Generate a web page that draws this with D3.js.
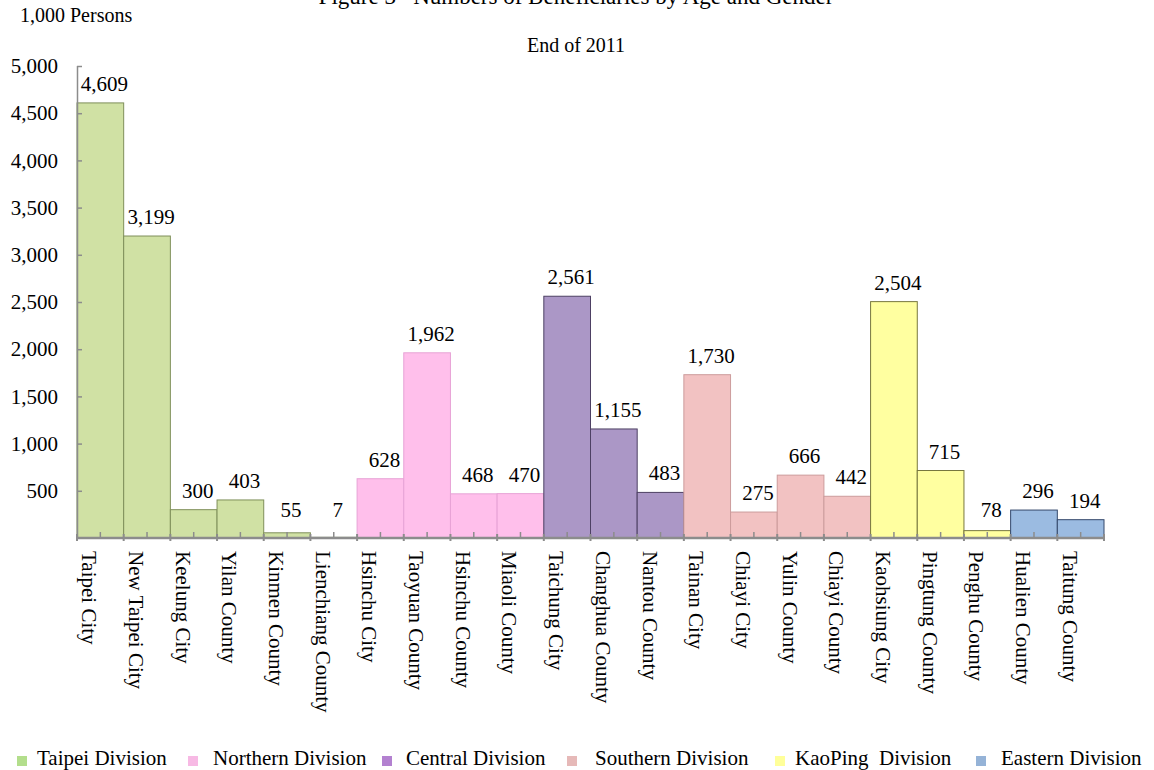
<!DOCTYPE html>
<html>
<head>
<meta charset="utf-8">
<script src="https://cdn.jsdelivr.net/npm/d3@7"></script>
<style>
  body { margin: 0; background: #fff; }
  svg { display: block; }
  text { font-family: "Liberation Serif", "Times New Roman", serif; fill: #000; }
</style>
</head>
<body>
<svg id="chart" width="1154" height="770"></svg>
<script>
// ---- data ----
const categories = ["Taipei City", "New Taipei City", "Keelung City", "Yilan County", "Kinmen County", "Lienchiang County",
  "Hsinchu City", "Taoyuan County", "Hsinchu County", "Miaoli County",
  "Taichung City", "Changhua County", "Nantou County",
  "Tainan City", "Chiayi City", "Yulin County", "Chiayi County",
  "Kaohsiung City", "Pingtung County", "Penghu County",
  "Hualien County", "Taitung County"];
const values = [4609, 3199, 300, 403, 55, 7, 628, 1962, 468, 470, 2561, 1155, 483, 1730, 275, 666, 442, 2504, 715, 78, 296, 194];
const divisionOf = ["Taipei", "Taipei", "Taipei", "Taipei", "Taipei", "Taipei",
  "Northern", "Northern", "Northern", "Northern",
  "Central", "Central", "Central",
  "Southern", "Southern", "Southern", "Southern",
  "KaoPing", "KaoPing", "KaoPing",
  "Eastern", "Eastern"];
const divisions = ["Taipei", "Northern", "Central", "Southern", "KaoPing", "Eastern"];
const legendLabels = ["Taipei Division", "Northern Division", "Central Division", "Southern Division", "KaoPing  Division", "Eastern Division"];
const yTicks = [500, 1000, 1500, 2000, 2500, 3000, 3500, 4000, 4500, 5000];

// ---- styles ----
const barFill = {Taipei: "#d0e1a4", Northern: "#ffbfeb", Central: "#ab97c6", Southern: "#f2c2c2", KaoPing: "#ffffa0", Eastern: "#9bbbe1"};
const barStroke = {Taipei: "#7f8f5a", Northern: "#e7a3d6", Central: "#4d4063", Southern: "#cc9c9c", KaoPing: "#77773f", Eastern: "#34486b"};
const legendFill = {Taipei: "#b3de8c", Northern: "#f7b9e4", Central: "#b381d0", Southern: "#e6b9b8", KaoPing: "#ffff99", Eastern: "#95b3d7"};
const legendSwatchX = [17, 188, 382, 567, 775, 976];
const legendTextX = [37, 213, 406, 595, 795, 1001];

const svg = d3.select("#chart");
const plot = {left: 77, right: 1104, top: 66, bottom: 538};

const x = d3.scaleBand().domain(categories).range([plot.left, plot.right]).padding(0);
const y = d3.scaleLinear().domain([0, 5000]).range([plot.bottom, plot.top]);

// title (cut off at top, as in the reference)
svg.append("text").attr("x", 576).attr("y", 4).attr("text-anchor", "middle")
  .attr("font-size", 23).attr("xml:space", "preserve")
  .text("Figure 3   Numbers of Beneficiaries by Age and Gender");

svg.append("text").attr("x", 20).attr("y", 22).attr("font-size", 20).text("1,000 Persons");
svg.append("text").attr("x", 576).attr("y", 52).attr("text-anchor", "middle").attr("font-size", 20).text("End of 2011");

// bars
svg.append("g").selectAll("rect").data(categories).join("rect")
  .attr("x", d => x(d))
  .attr("y", (d, i) => y(values[i]))
  .attr("width", x.bandwidth())
  .attr("height", (d, i) => y(0) - y(values[i]))
  .attr("fill", (d, i) => barFill[divisionOf[i]])
  .attr("stroke", (d, i) => barStroke[divisionOf[i]])
  .attr("stroke-width", 1);

// y axis
const yAxis = d3.axisLeft(y).tickValues(yTicks).tickFormat(d3.format(",")).tickSizeInner(-5).tickSizeOuter(0).tickPadding(19);
const gy = svg.append("g").attr("transform", `translate(${plot.left},0)`).call(yAxis);
gy.select(".domain").attr("stroke", "#8c8c8c").attr("stroke-width", 1.5).attr("d", `M0.5,${plot.top}V${plot.bottom}`);
gy.selectAll(".tick line").attr("stroke", "#8c8c8c").attr("stroke-width", 1.5);
gy.selectAll(".tick text").attr("font-size", 21).attr("font-family", "Liberation Serif, Times New Roman, serif").attr("fill", "#000");

// x axis
const gx = svg.append("g").attr("transform", `translate(0,${plot.bottom})`);
gx.append("line").attr("x1", plot.left).attr("x2", plot.right + 1).attr("y1", 0).attr("y2", 0)
  .attr("stroke", "#8c8c8c").attr("stroke-width", 2.5);
gx.selectAll("line.c").data(categories).join("line").attr("class", "c")
  .attr("x1", d => x(d) + x.bandwidth() / 2).attr("x2", d => x(d) + x.bandwidth() / 2)
  .attr("y1", 0).attr("y2", -6).attr("stroke", "#8c8c8c").attr("stroke-width", 1.5);
gx.selectAll("line.b").data(categories.concat(["__end"])).join("line").attr("class", "b")
  .attr("x1", (d, i) => plot.left + i * x.bandwidth()).attr("x2", (d, i) => plot.left + i * x.bandwidth())
  .attr("y1", 3).attr("y2", -4).attr("stroke", "#8c8c8c").attr("stroke-width", 2);

// x labels (rotated)
svg.append("g").selectAll("text").data(categories).join("text")
  .attr("transform", d => `translate(${x(d) + x.bandwidth() / 2 - 18},551) rotate(90)`)
  .attr("font-size", 21)
  .text(d => d);

// value labels
svg.append("g").selectAll("text").data(categories).join("text")
  .attr("x", d => x(d) + x.bandwidth() / 2 + 4)
  .attr("y", (d, i) => Math.min(y(values[i]) - 12, 517))
  .attr("text-anchor", "middle")
  .attr("font-size", 21)
  .text((d, i) => d3.format(",")(values[i]));

// legend
const lg = svg.append("g");
divisions.forEach((dv, i) => {
  lg.append("rect").attr("x", legendSwatchX[i]).attr("y", 756).attr("width", 10).attr("height", 10).attr("fill", legendFill[dv]);
  lg.append("text").attr("x", legendTextX[i]).attr("y", 765).attr("font-size", 21).attr("xml:space", "preserve").text(legendLabels[i]);
});
</script>
</body>
</html>
